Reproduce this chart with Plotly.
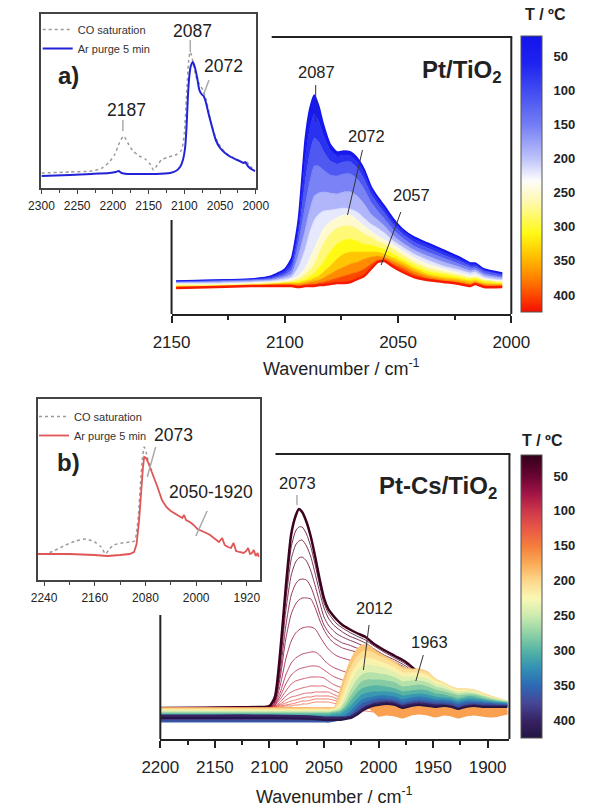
import plotly.graph_objects as go
from plotly.colors import sample_colorscale

W, H = 593, 806
FONT = "Liberation Sans, Arial, sans-serif"

# ======================= DATA =======================
T_MIN, T_MAX = 20, 425
cbar_ticks = [50, 100, 150, 200, 250, 300, 350, 400]

# ---- (a) Pt/TiO2, main panel: spectra at several temperatures ----
a_wn = [2148, 2130, 2115, 2106, 2100, 2097, 2094, 2091, 2089, 2087, 2085, 2083, 2080, 2077, 2074, 2071,
        2068, 2065, 2062, 2059, 2056, 2052, 2048, 2043, 2037, 2030, 2023, 2018, 2016, 2012, 2004]
a_T = [25, 60, 100, 140, 180, 210, 240, 270, 300, 330, 360, 390, 420]
# one row per wavenumber, one value per temperature (a.u.)
a_cols = [
    [33, 33, 32, 32, 31, 31, 30, 29, 28, 27, 27, 26, 26],
    [34, 34, 33, 33, 32, 31, 30, 29, 28, 28, 27, 27, 27],
    [35, 35, 34, 34, 33, 32, 31, 30, 29, 29, 28, 28, 28],
    [38, 37, 36, 35, 34, 33, 32, 31, 30, 30, 29, 29, 28],
    [45, 43, 41, 39, 37, 35, 33, 32, 31, 31, 30, 29, 28],
    [56, 52, 48, 44, 40, 37, 35, 33, 32, 31, 30, 29, 28],
    [95, 86, 78, 70, 58, 47, 38, 35, 33, 31, 30, 28, 27],
    [175, 155, 132, 108, 84, 65, 46, 40, 35, 33, 31, 29, 28],
    [205, 185, 160, 132, 104, 82, 55, 44, 38, 34, 32, 30, 28],
    [219, 200, 176, 148, 118, 94, 65, 50, 41, 36, 33, 30, 28],
    [208, 193, 172, 148, 121, 100, 75, 60, 46, 38, 34, 31, 29],
    [190, 179, 163, 144, 122, 103, 85, 70, 52, 42, 36, 32, 29],
    [170, 164, 153, 139, 121, 104, 92, 80, 62, 48, 40, 34, 30],
    [162, 158, 150, 138, 120, 105, 96, 86, 70, 55, 44, 36, 31],
    [163, 159, 152, 140, 122, 106, 99, 88, 74, 60, 47, 38, 31],
    [162, 158, 152, 140, 122, 105, 99, 88, 75, 62, 50, 40, 32],
    [156, 152, 146, 135, 118, 102, 94, 85, 73, 62, 52, 42, 35],
    [145, 141, 135, 125, 110, 96, 88, 80, 70, 62, 55, 45, 38],
    [128, 125, 120, 112, 100, 90, 83, 77, 69, 62, 57, 50, 45],
    [117, 114, 110, 103, 94, 86, 78, 73, 67, 62, 58, 54, 52],
    [108, 105, 101, 95, 88, 81, 74, 70, 65, 60, 57, 55, 53],
    [95, 92, 89, 84, 78, 73, 69, 65, 60, 56, 53, 50, 47],
    [85, 83, 80, 76, 71, 67, 63, 59, 55, 52, 49, 46, 42],
    [77, 75, 72, 68, 64, 60, 56, 52, 49, 46, 43, 40, 37],
    [71, 69, 66, 62, 58, 54, 50, 46, 43, 40, 38, 36, 34],
    [64, 62, 59, 56, 52, 48, 45, 42, 40, 37, 35, 33, 32],
    [57, 55, 53, 50, 47, 44, 41, 39, 37, 35, 33, 31, 30],
    [51, 50, 48, 46, 43, 41, 38, 36, 35, 33, 31, 29, 28],
    [51, 50, 48, 46, 44, 42, 39, 37, 36, 34, 32, 31, 30],
    [45, 44, 43, 41, 39, 37, 35, 34, 33, 31, 30, 28, 27],
    [41, 40, 39, 37, 36, 34, 33, 32, 31, 30, 29, 28, 27],
]

# ---- (a) inset ----
a_in_co_wn = [2300, 2260, 2230, 2215, 2205, 2197, 2191, 2185, 2179, 2172, 2163, 2155, 2148, 2143, 2138,
              2132, 2122, 2112, 2104, 2100, 2097, 2094, 2092, 2090, 2087, 2083, 2079, 2074, 2069, 2063,
              2056, 2048, 2040, 2030, 2020, 2016, 2014, 2008, 2002]
a_in_co_I = [15, 16, 17, 20, 26, 34, 45, 52, 45, 37, 32, 29, 24, 18, 23,
             28, 31, 33, 38, 55, 92, 127, 136, 133, 122, 110, 104, 98, 87, 67,
             50, 40, 34, 30, 26, 25, 27, 22, 18]
a_in_ar_wn = [2300, 2260, 2230, 2205, 2196, 2192, 2188, 2180, 2160, 2140, 2120, 2112, 2106, 2102, 2099,
              2097, 2095, 2093, 2091, 2088, 2085, 2082, 2079, 2076, 2073, 2070, 2066, 2062, 2056, 2050,
              2043, 2035, 2026, 2020, 2017, 2015, 2010, 2004, 2001]
a_in_ar_I = [12, 13, 14, 15, 16, 17, 15, 14, 14, 14, 15, 17, 21, 28, 40,
             60, 92, 112, 122, 126, 120, 110, 98, 94, 92, 86, 74, 63, 48, 40,
             35, 31, 28, 26, 25, 26, 21, 18, 17]

# ---- (b) Pt-Cs/TiO2, main panel: low-temperature spectra (2073 band) ----
b_lo_wn = [2200, 2110, 2100, 2095, 2090, 2085, 2080, 2076, 2073, 2070, 2066, 2062, 2058, 2054, 2050,
           2046, 2042, 2038, 2033, 2027, 2020, 2012, 2004, 1995, 1985, 1975, 1965, 1950, 1930, 1905, 1882]
b_lo_T = [25, 32, 40, 48, 56, 64, 72, 80, 88, 96, 104, 112, 120, 128, 136]
b_lo_I = [
    [31, 32, 33, 42, 88, 152, 205, 223, 230, 227, 217, 202, 182, 160, 141, 130, 124, 119, 114, 110, 106, 102, 95, 89, 83, 77, 68, 56, 46, 40, 35],
    [31, 32, 33, 41, 84, 145, 192, 208, 212, 212, 205, 192, 174, 154, 136, 126, 120, 115, 111, 107, 103, 99, 93, 87, 81, 75, 66, 55, 45, 39, 34],
    [31, 32, 33, 40, 80, 138, 180, 194, 198, 199, 193, 182, 165, 147, 131, 121, 115, 111, 107, 103, 100, 96, 90, 84, 79, 73, 64, 54, 44, 38, 34],
    [31, 32, 33, 39, 75, 128, 164, 177, 181, 182, 178, 168, 153, 137, 122, 114, 109, 105, 102, 99, 96, 92, 87, 82, 77, 71, 62, 53, 44, 38, 34],
    [31, 32, 33, 38, 68, 113, 144, 155, 159, 160, 159, 152, 140, 126, 114, 107, 102, 99, 96, 94, 91, 88, 84, 79, 74, 69, 61, 52, 43, 38, 34],
    [31, 32, 32, 37, 62, 100, 125, 135, 139, 141, 141, 140, 131, 119, 109, 102, 97, 94, 91, 89, 87, 84, 81, 76, 72, 67, 60, 51, 43, 38, 34],
    [31, 32, 32, 36, 54, 80, 98, 106, 109, 111, 112, 112, 110, 103, 96, 90, 86, 83, 81, 79, 77, 75, 73, 70, 67, 63, 57, 50, 42, 37, 33],
    [31, 32, 32, 35, 47, 64, 76, 81, 83, 85, 86, 87, 87, 84, 79, 75, 72, 70, 68, 66, 65, 64, 62, 60, 58, 56, 52, 47, 41, 37, 33],
    [31, 32, 32, 34, 43, 55, 64, 68, 70, 71, 72, 73, 73, 72, 69, 66, 63, 61, 59, 57, 56, 55, 54, 53, 52, 50, 47, 44, 40, 36, 33],
    [31, 32, 32, 34, 40, 48, 55, 58, 59, 60, 61, 62, 62, 62, 61, 58, 55, 53, 51, 49, 48, 47, 46, 46, 45, 44, 42, 40, 37, 35, 33],
    [31, 32, 32, 33, 37, 43, 47, 49, 50, 51, 52, 53, 53, 53, 53, 51, 49, 47, 45, 43, 42, 41, 40, 40, 40, 39, 38, 37, 35, 34, 32],
    [31, 31, 32, 33, 35, 39, 42, 43, 44, 45, 46, 46, 47, 47, 47, 47, 45, 43, 41, 39, 37, 36, 35, 35, 35, 35, 34, 34, 33, 33, 32],
    [31, 31, 32, 32, 34, 36, 38, 39, 40, 41, 42, 42, 43, 43, 43, 43, 42, 40, 38, 36, 34, 33, 32, 32, 32, 31, 31, 31, 31, 31, 31],
    [31, 31, 31, 32, 33, 34, 35, 36, 37, 38, 38, 39, 40, 40, 40, 40, 39, 38, 36, 34, 32, 31, 30, 29, 29, 28, 28, 28, 28, 28, 28],
    [31, 31, 31, 31, 32, 33, 33, 34, 34, 35, 35, 36, 37, 37, 37, 37, 36, 35, 33, 31, 29, 28, 27, 26, 26, 26, 26, 26, 26, 26, 26],
]

# ---- (b) main panel: high-temperature spectra (2012 / 1963 bands) ----
b_hi_wn = [2200, 2150, 2100, 2060, 2050, 2045, 2040, 2035, 2030, 2025, 2020, 2015, 2010, 2005, 2000,
           1993, 1985, 1978, 1970, 1963, 1955, 1948, 1940, 1933, 1927, 1920, 1912, 1905, 1895, 1882]
b_hi_T = [150, 170, 190, 205, 220, 240, 260, 280, 300, 320, 340, 360, 380, 400, 420]
b_hi_cols = [
    [31, 31, 31, 30, 29, 28, 27, 26, 25, 23, 20, 17, 19, 24, 21],
    [31, 31, 31, 30, 29, 28, 27, 26, 25, 23, 20, 17, 19, 24, 21],
    [31, 31, 31, 30, 29, 28, 27, 26, 25, 23, 20, 17, 19, 24, 21],
    [31, 31, 31, 30, 29, 28, 27, 26, 25, 23, 20, 17, 19, 23, 20],
    [31, 30, 31, 30, 29, 28, 27, 26, 25, 23, 20, 17, 19, 22, 19],
    [31, 30, 31, 30, 29, 28, 27, 26, 25, 23, 20, 17, 19, 22, 19],
    [30, 29, 32, 31, 30, 29, 28, 27, 26, 24, 21, 18, 19, 22, 19],
    [29, 28, 49, 42, 36, 32, 30, 28, 27, 25, 22, 19, 19, 22, 19],
    [28, 27, 66, 58, 50, 43, 38, 34, 31, 28, 24, 21, 20, 22, 20],
    [28, 26, 80, 72, 64, 56, 49, 43, 38, 33, 28, 25, 23, 23, 21],
    [28, 26, 89, 82, 74, 66, 58, 51, 45, 39, 34, 30, 27, 26, 24],
    [30, 29, 94, 87, 80, 72, 64, 57, 50, 44, 39, 35, 31, 30, 28],
    [32, 31, 94, 88, 81, 74, 66, 59, 52, 46, 41, 37, 34, 33, 31],
    [30, 28, 90, 86, 80, 73, 66, 59, 53, 47, 42, 39, 36, 35, 33],
    [27, 23, 86, 83, 78, 72, 65, 59, 53, 47, 43, 40, 37, 36, 34],
    [27, 24, 82, 80, 75, 70, 64, 58, 52, 47, 43, 40, 38, 37, 35],
    [26, 23, 77, 75, 71, 66, 61, 56, 50, 46, 42, 39, 37, 36, 34],
    [24, 21, 72, 70, 66, 62, 57, 52, 47, 43, 39, 36, 34, 33, 31],
    [27, 24, 70, 69, 66, 62, 58, 53, 48, 44, 41, 38, 36, 35, 33],
    [28, 25, 70, 69, 66, 62, 58, 54, 49, 45, 42, 39, 37, 36, 34],
    [27, 24, 67, 66, 63, 60, 56, 52, 48, 44, 41, 38, 36, 35, 33],
    [25, 22, 60, 60, 58, 55, 52, 49, 45, 42, 39, 37, 35, 34, 32],
    [27, 24, 56, 56, 55, 53, 50, 47, 44, 41, 39, 37, 35, 34, 33],
    [26, 23, 52, 52, 51, 49, 47, 45, 42, 40, 38, 36, 34, 33, 32],
    [23, 21, 50, 50, 49, 47, 45, 43, 40, 38, 36, 34, 32, 31, 30],
    [26, 23, 50, 50, 49, 48, 46, 44, 42, 40, 38, 36, 34, 33, 32],
    [27, 24, 49, 49, 48, 47, 45, 44, 42, 40, 38, 36, 35, 34, 33],
    [26, 23, 46, 46, 45, 44, 43, 42, 40, 39, 37, 36, 34, 33, 32],
    [25, 22, 42, 42, 41, 41, 40, 39, 38, 37, 36, 35, 34, 33, 32],
    [28, 25, 38, 38, 38, 38, 37, 37, 36, 36, 35, 34, 33, 33, 32],
]

# ---- (b) inset ----
b_in_co_wn = [2250, 2240, 2225, 2206, 2190, 2174, 2160, 2150, 2143, 2137, 2130, 2118, 2105, 2097, 2094,
              2091, 2088, 2085, 2082, 2079, 2076, 2073, 2070]
b_in_co_I = [26, 26, 29, 35, 39, 41, 38, 33, 26, 31, 35, 37, 38, 39, 48,
             65, 95, 120, 133, 128, 120, 115, 110]
b_in_ar_wn = [2250, 2200, 2160, 2140, 2120, 2105, 2098, 2094, 2090, 2087, 2084, 2082, 2079, 2076, 2073,
              2070, 2067, 2061, 2054, 2047, 2040, 2030, 2022, 2019, 2016, 2010, 2004, 1998, 1990, 1984,
              1978, 1974, 1968, 1964, 1959, 1955, 1950, 1945, 1941, 1937, 1932, 1925, 1921, 1918, 1915,
              1912, 1909, 1906, 1903, 1901]
b_in_ar_I = [26, 26, 25, 24, 25, 26, 28, 36, 60, 88, 112, 123, 122, 118, 113,
             109, 105, 93, 80, 73, 69, 65, 62, 65, 60, 58, 55, 51, 49, 47,
             45, 43, 40, 38, 42, 35, 33, 32, 37, 29, 28, 27, 29, 32, 26,
             27, 30, 24, 27, 23]

# ======================= STYLE =======================
top_stops_T = [20, 60, 100, 150, 200, 232, 265, 310, 345, 380, 425]
top_stops_c = ['rgb(20,20,235)', 'rgb(30,35,240)', 'rgb(65,75,240)', 'rgb(115,125,245)', 'rgb(190,195,250)',
               'rgb(252,252,252)', 'rgb(255,248,170)', 'rgb(255,250,20)', 'rgb(255,190,0)', 'rgb(255,120,0)',
               'rgb(245,15,0)']
bot_stops_T = [20, 50, 75, 100, 125, 150, 175, 200, 225, 250, 275, 300, 325, 350, 375, 400, 425]
bot_stops_c = ['rgb(50,0,25)', 'rgb(105,5,50)', 'rgb(160,20,70)', 'rgb(205,55,75)', 'rgb(232,88,70)',
               'rgb(245,125,60)', 'rgb(250,170,85)', 'rgb(252,215,140)', 'rgb(250,248,180)', 'rgb(205,235,175)',
               'rgb(145,210,165)', 'rgb(85,180,165)', 'rgb(50,145,180)', 'rgb(45,105,180)', 'rgb(70,70,150)',
               'rgb(55,35,100)', 'rgb(35,20,65)']


def make_cs(st, sc):
    return [[(t - T_MIN) / (T_MAX - T_MIN), c] for t, c in zip(st, sc)]


def bar_cs(st, sc):
    return sorted([[(T_MAX - t) / (T_MAX - T_MIN), c] for t, c in zip(st, sc)])


csA = make_cs(top_stops_T, top_stops_c)
csB = make_cs(bot_stops_T, bot_stops_c)


def tcol(cs, T):
    f = min(max((T - T_MIN) / (T_MAX - T_MIN), 0), 1)
    return sample_colorscale(cs, [f])[0]


def PX(x):
    return x / W


def PY(y):
    return 1 - y / H


fig = go.Figure()

# ---- (a) main ----
a_curves = [list(r) for r in zip(*a_cols)]
n = len(a_T)
for i, T in enumerate(a_T):
    kw = {}
    if i > 0:
        kw = dict(fill='tonexty', fillcolor=tcol(csA, a_T[i - 1] + 0.35 * (T - a_T[i - 1])))
    w = 1.5 if i == 0 else (2.5 if i == n - 1 else 0.8)
    fig.add_trace(go.Scatter(x=a_wn, y=a_curves[i], mode='lines',
                             line=dict(color=tcol(csA, T), width=w, shape='spline', smoothing=0.5),
                             xaxis='x', yaxis='y', showlegend=False, hoverinfo='skip', **kw))

# ---- (a) inset ----
fig.add_trace(go.Scatter(x=a_in_co_wn, y=a_in_co_I, mode='lines', name='CO saturation',
                         line=dict(color='#9a9a9a', width=1.5, dash='dot', shape='spline', smoothing=0.6),
                         xaxis='x2', yaxis='y2', legend='legend', hoverinfo='skip'))
fig.add_trace(go.Scatter(x=a_in_ar_wn, y=a_in_ar_I, mode='lines', name='Ar purge 5 min',
                         line=dict(color='#2222d6', width=2, shape='spline', smoothing=0.6),
                         xaxis='x2', yaxis='y2', legend='legend', hoverinfo='skip'))

# ---- (b) main: low-T family (thin lines), highest T first, 25 ºC last ----
for i in reversed(range(len(b_lo_T))):
    T = b_lo_T[i]
    fig.add_trace(go.Scatter(x=b_lo_wn, y=b_lo_I[i], mode='lines',
                             line=dict(color=tcol(csB, T), width=2.5 if i == 0 else 1.0,
                                       shape='spline', smoothing=0.6),
                             opacity=1.0 if i == 0 else 0.8,
                             xaxis='x3', yaxis='y3', showlegend=False, hoverinfo='skip'))

# ---- (b) main: high-T family (dense, filled) ----
b_hi_curves = [list(r) for r in zip(*b_hi_cols)]
for i, T in enumerate(b_hi_T):
    kw = {}
    if i > 0:
        kw = dict(fill='tonexty', fillcolor=tcol(csB, b_hi_T[i - 1]))
    fig.add_trace(go.Scatter(x=b_hi_wn, y=b_hi_curves[i], mode='lines',
                             line=dict(color=tcol(csB, T), width=1.2 if i < len(b_hi_T) - 1 else 2.0,
                                       shape='spline', smoothing=0.5),
                             xaxis='x3', yaxis='y3', showlegend=False, hoverinfo='skip', **kw))

# ---- (b) inset ----
fig.add_trace(go.Scatter(x=b_in_co_wn, y=b_in_co_I, mode='lines', name='CO saturation',
                         line=dict(color='#9a9a9a', width=1.5, dash='dot', shape='spline', smoothing=0.6),
                         xaxis='x4', yaxis='y4', legend='legend2', hoverinfo='skip'))
fig.add_trace(go.Scatter(x=b_in_ar_wn, y=b_in_ar_I, mode='lines', name='Ar purge 5 min',
                         line=dict(color='#e05555', width=1.8),
                         xaxis='x4', yaxis='y4', legend='legend2', hoverinfo='skip'))


# ---- colour bars (dummy traces outside visible ranges) ----
def cbar(stT, stC, ytop, ybot, axx, axy):
    return go.Scatter(
        x=[2500], y=[-500], mode='markers', xaxis=axx, yaxis=axy, showlegend=False, hoverinfo='skip',
        marker=dict(color=[-100], cmin=-T_MAX, cmax=-T_MIN, colorscale=bar_cs(stT, stC), showscale=True, size=1,
                    colorbar=dict(x=PX(536), xanchor='left', y=PY((ytop + ybot) / 2), yanchor='middle',
                                  len=ybot - ytop, lenmode='pixels', thickness=21, thicknessmode='pixels',
                                  xpad=0, ypad=0, outlinewidth=1, outlinecolor='#555',
                                  tickvals=[-t for t in cbar_ticks],
                                  ticktext=['<b>%d</b>' % t for t in cbar_ticks],
                                  ticks='outside', ticklen=9, tickcolor='rgba(0,0,0,0)',
                                  tickfont=dict(size=13, color='#222', family=FONT))))


fig.add_trace(cbar(top_stops_T, top_stops_c, 36, 312, 'x2', 'y2'))
fig.add_trace(cbar(bot_stops_T, bot_stops_c, 455, 738, 'x4', 'y4'))

# ======================= LAYOUT =======================
main_minor = dict(ticks='outside', ticklen=4, tickwidth=1.5, tickcolor='#222', dtick=25)
main_x = dict(showline=True, linewidth=2, linecolor='#222', ticks='outside', ticklen=7, tickwidth=1.5,
              tickcolor='#222', showgrid=False, zeroline=False, tickfont=dict(size=17, color='#222', family=FONT),
              ticklabelstandoff=5, tickmode='linear', dtick=50)
inset_x = dict(showline=True, mirror=True, linewidth=1.5, linecolor='#444', ticks='outside', ticklen=4,
               tickwidth=1.2, tickcolor='#444', showgrid=False, zeroline=False,
               tickfont=dict(size=12, color='#222', family=FONT), tickmode='linear', ticklabelstandoff=2)
hidden_y = dict(visible=False, showgrid=False, zeroline=False)
inset_y = dict(showline=True, mirror=True, linewidth=1.5, linecolor='#444', ticks='', showticklabels=False,
               showgrid=False, zeroline=False)

fig.update_layout(
    width=W, height=H, margin=dict(l=0, r=0, t=0, b=0),
    paper_bgcolor='white', plot_bgcolor='white',
    font=dict(family=FONT, color='#222'),
    xaxis=dict(main_x, anchor='y', domain=[PX(163), PX(526)], range=[2150, 2000], tick0=2000,
               minor=dict(main_minor, tick0=2000)),
    yaxis=dict(hidden_y, anchor='x', domain=[PY(314), PY(37)], range=[0, 277]),
    xaxis2=dict(inset_x, anchor='y2', domain=[PX(24), PX(253)], range=[2300, 2000], tick0=2000, dtick=50,
                minor=dict(ticks='outside', ticklen=3, tickwidth=1.2, tickcolor='#444', dtick=25, tick0=2000)),
    yaxis2=dict(inset_y, anchor='x2', domain=[PY(188), PY(14)], range=[0, 174]),
    xaxis3=dict(main_x, anchor='y3', domain=[PX(151), PX(524)], range=[2200, 1880], tick0=1900,
                minor=dict(main_minor, tick0=1900)),
    yaxis3=dict(hidden_y, anchor='x3', domain=[PY(739), PY(454)], range=[0, 285]),
    xaxis4=dict(inset_x, anchor='y4', domain=[PX(20), PX(257)], range=[2250, 1900], tick0=1920, dtick=80,
                minor=dict(ticks='outside', ticklen=3, tickwidth=1.2, tickcolor='#444', dtick=40, tick0=1920)),
    yaxis4=dict(inset_y, anchor='x4', domain=[PY(580), PY(399)], range=[0, 181]),
    legend=dict(x=PX(20), y=PY(15), xanchor='left', yanchor='top', bgcolor='rgba(0,0,0,0)', traceorder='normal',
                font=dict(size=11, color='#333', family=FONT), itemwidth=30, tracegroupgap=0),
    legend2=dict(x=PX(16), y=PY(402), xanchor='left', yanchor='top', bgcolor='rgba(0,0,0,0)', traceorder='normal',
                 font=dict(size=11, color='#333', family=FONT), itemwidth=30, tracegroupgap=0),
)


def seg(x0, y0, x1, y1, color='#222', width=2):
    return dict(type='line', xref='paper', yref='paper', x0=PX(x0), y0=PY(y0), x1=PX(x1), y1=PY(y1),
                line=dict(color=color, width=width))


shapes = [
    # frame of main (a)
    seg(163, 220, 163, 314), seg(270, 37, 527, 37), seg(526, 37, 526, 314),
    # frame of main (b)
    seg(151, 615, 151, 739), seg(274, 454, 525, 454), seg(524, 454, 524, 739),
    # pointer lines (a) main
    seg(317, 85, 317, 122, '#333', 1), seg(367, 150, 351, 215, '#333', 1), seg(408, 212, 387, 265, '#333', 1),
    # pointer lines (a) inset
    seg(183, 40, 183, 52, '#aaa', 1.5), seg(203, 80, 197, 95, '#aaa', 1.5), seg(111, 120, 111, 131, '#aaa', 1.5),
    # pointer lines (b) main
    seg(297, 495, 297, 505, '#999', 1.2), seg(374, 625, 368, 670, '#333', 1), seg(432, 655, 424, 681, '#333', 1),
    # pointer lines (b) inset
    seg(146, 447, 137, 477, '#aaa', 1.5), seg(201, 511, 189, 536, '#aaa', 1.5),
]


def ann(text, x, y, size, bold=False, xanchor='center'):
    return dict(text=('<b>%s</b>' % text) if bold else text, x=PX(x), y=PY(y), xref='paper', yref='paper',
                showarrow=False, xanchor=xanchor, yanchor='middle',
                font=dict(size=size, color='#222', family=FONT))


annotations = [
    ann('2087', 318, 72, 16.5), ann('2072', 371, 136, 16.5), ann('2057', 419, 195, 16.5),
    ann('Pt/TiO<sub>2</sub>', 473, 72, 24, bold=True),
    ann('2087', 185, 31, 17.5), ann('2072', 218, 66, 17.5), ann('2187', 115, 110, 17.5),
    ann('a)', 53, 75, 24, bold=True),
    ann('T / ºC', 563, 14, 16, bold=True),
    ann('Wavenumber / cm<sup>-1</sup>', 345, 367, 18),
    ann('2073', 298, 483, 16.5), ann('2012', 380, 608, 16.5), ann('1963', 439, 642, 16.5),
    ann('Pt-Cs/TiO<sub>2</sub>', 448, 487, 24, bold=True),
    ann('2073', 165, 435, 17.5), ann('2050-1920', 205, 492, 17.5),
    ann('b)', 53, 462, 24, bold=True),
    ann('T / ºC', 559, 440, 16, bold=True),
    ann('Wavenumber / cm<sup>-1</sup>', 337, 795, 18),
]

fig.update_layout(shapes=shapes, annotations=annotations)
fig.write_html("out.html", config={'displayModeBar': False})
